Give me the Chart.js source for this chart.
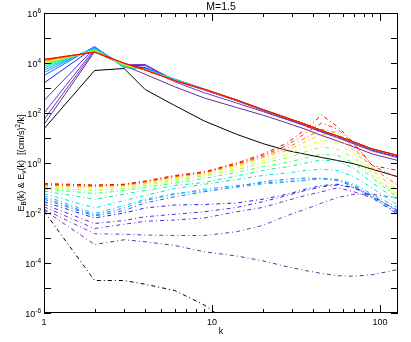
<!DOCTYPE html>
<html>
<head>
<meta charset="utf-8">
<script src="https://cdn.jsdelivr.net/npm/chart.js@4.4.0/dist/chart.umd.min.js"></script>
<style>
  html, body { margin: 0; padding: 0; background: #fff; }
</style>
</head>
<body>
<canvas id="spectra" width="411" height="342"></canvas>
<script>
// ===========================
// DATA (log10 of the spectra)
// ===========================
const kValues = [1, 2, 3, 4, 6, 9, 14, 20, 28, 36, 45, 56, 70, 90, 128];

// E_v(k), solid lines, first snapshot (black) to last (red)
const kineticLog = [
  [1.37, 3.70, 3.78, 2.94, 2.30, 1.68, 1.15, 0.78, 0.50, 0.35, 0.22, 0.10, -0.03, -0.25, -0.55],
  [1.54, 4.45, 3.90, 3.55, 3.05, 2.60, 2.22, 1.92, 1.60, 1.35, 1.10, 0.88, 0.64, 0.36, 0.10],
  [1.74, 4.50, 3.95, 3.80, 3.25, 2.81, 2.40, 2.06, 1.73, 1.48, 1.23, 1.01, 0.76, 0.48, 0.21],
  [2.00, 4.55, 3.93, 3.94, 3.30, 2.92, 2.49, 2.11, 1.76, 1.51, 1.26, 1.04, 0.80, 0.52, 0.25],
  [2.50, 4.60, 3.90, 3.90, 3.30, 2.93, 2.50, 2.12, 1.77, 1.52, 1.27, 1.05, 0.81, 0.53, 0.26],
  [3.20, 4.63, 3.85, 3.82, 3.32, 2.94, 2.50, 2.12, 1.78, 1.53, 1.28, 1.06, 0.82, 0.54, 0.27],
  [3.50, 4.66, 3.82, 3.78, 3.33, 2.95, 2.51, 2.13, 1.79, 1.54, 1.29, 1.06, 0.82, 0.55, 0.28],
  [3.62, 4.64, 3.82, 3.77, 3.35, 2.96, 2.52, 2.14, 1.80, 1.55, 1.30, 1.07, 0.83, 0.55, 0.28],
  [3.72, 4.60, 3.84, 3.76, 3.36, 2.96, 2.53, 2.15, 1.81, 1.55, 1.30, 1.07, 0.83, 0.55, 0.29],
  [3.80, 4.57, 3.86, 3.75, 3.34, 2.95, 2.52, 2.14, 1.80, 1.55, 1.30, 1.08, 0.84, 0.56, 0.29],
  [3.87, 4.55, 3.88, 3.74, 3.32, 2.95, 2.52, 2.14, 1.80, 1.55, 1.30, 1.08, 0.84, 0.56, 0.30],
  [3.93, 4.52, 3.90, 3.74, 3.31, 2.95, 2.52, 2.14, 1.80, 1.55, 1.30, 1.08, 0.84, 0.56, 0.30],
  [3.98, 4.50, 3.92, 3.73, 3.31, 2.95, 2.52, 2.14, 1.80, 1.55, 1.30, 1.08, 0.84, 0.56, 0.30],
  [4.02, 4.48, 3.94, 3.73, 3.30, 2.95, 2.52, 2.14, 1.80, 1.55, 1.30, 1.08, 0.84, 0.56, 0.30],
  [4.06, 4.46, 3.96, 3.72, 3.30, 2.95, 2.52, 2.14, 1.80, 1.55, 1.30, 1.08, 0.84, 0.56, 0.30],
  [4.10, 4.45, 3.98, 3.72, 3.30, 2.95, 2.52, 2.14, 1.80, 1.55, 1.30, 1.08, 0.84, 0.56, 0.30],
  [4.13, 4.44, 3.99, 3.72, 3.30, 2.95, 2.52, 2.14, 1.80, 1.55, 1.30, 1.08, 0.84, 0.56, 0.30],
  [4.15, 4.43, 4.00, 3.72, 3.30, 2.95, 2.52, 2.14, 1.80, 1.55, 1.30, 1.08, 0.84, 0.56, 0.30]
];

// E_B(k), dash-dot lines, same snapshots
const magneticLog = [
  [-1.93, -4.70, -4.70, -4.85, -5.10, -5.68, -6.60, null, null, null, null, null, null, null, null],
  [-1.88, -3.26, -3.07, -3.15, -3.30, -3.55, -3.72, -3.91, -4.15, -4.30, -4.42, -4.51, -4.53, -4.47, -4.26],
  [-1.85, -2.83, -2.85, -2.88, -2.90, -2.90, -2.75, -2.50, -2.10, -1.85, -1.60, -1.38, -1.25, -1.25, -1.40],
  [-1.75, -2.62, -2.45, -2.33, -2.28, -2.20, -1.95, -1.78, -1.50, -1.30, -1.15, -0.99, -1.15, -1.40, -2.00],
  [-1.65, -2.42, -2.30, -2.15, -2.05, -1.95, -1.78, -1.55, -1.30, -1.10, -0.95, -0.88, -1.00, -1.35, -1.90],
  [-1.55, -2.20, -2.00, -1.80, -1.68, -1.66, -1.60, -1.45, -1.25, -1.05, -0.90, -0.85, -0.98, -1.30, -1.95],
  [-1.45, -2.12, -1.90, -1.60, -1.35, -1.15, -0.95, -0.75, -0.65, -0.60, -0.62, -0.70, -0.95, -1.40, -2.06],
  [-1.38, -2.08, -1.80, -1.50, -1.25, -1.05, -0.90, -0.80, -0.74, -0.68, -0.62, -0.66, -0.90, -1.35, -1.90],
  [-1.30, -2.02, -1.70, -1.45, -1.22, -1.12, -0.97, -0.84, -0.77, -0.70, -0.63, -0.66, -0.85, -1.25, -1.79],
  [-1.22, -1.80, -1.50, -1.30, -1.02, -0.85, -0.66, -0.50, -0.40, -0.30, -0.25, -0.30, -0.55, -1.00, -1.70],
  [-1.12, -1.45, -1.25, -1.10, -0.90, -0.78, -0.52, -0.30, -0.15, 0.00, 0.12, 0.08, -0.22, -0.80, -1.50],
  [-1.04, -1.22, -1.10, -0.98, -0.80, -0.62, -0.38, -0.15, 0.02, 0.20, 0.35, 0.30, 0.00, -0.60, -1.40],
  [-0.98, -1.10, -1.02, -0.90, -0.70, -0.52, -0.27, 0.00, 0.20, 0.45, 0.65, 0.55, 0.20, -0.50, -1.35],
  [-0.93, -1.00, -0.95, -0.85, -0.64, -0.46, -0.17, 0.10, 0.35, 0.65, 0.90, 0.80, 0.35, -0.40, -1.30],
  [-0.90, -0.95, -0.90, -0.80, -0.58, -0.41, -0.10, 0.20, 0.50, 0.85, 1.15, 1.00, 0.50, -0.30, -1.10],
  [-0.87, -0.92, -0.88, -0.76, -0.55, -0.38, -0.06, 0.25, 0.60, 1.00, 1.35, 1.20, 0.60, -0.20, -0.90],
  [-0.85, -0.90, -0.86, -0.74, -0.52, -0.37, -0.03, 0.30, 0.70, 1.20, 1.60, 1.35, 0.75, -0.10, -0.60],
  [-0.82, -0.88, -0.85, -0.72, -0.50, -0.35, 0.00, 0.35, 0.80, 1.35, 1.92, 1.45, 0.80, -0.10, -0.30]
];

const snapshotColors = [
  '#000000', '#6b2c91', '#7a35b5', '#6a2fd0', '#4a28e6', '#2020ff',
  '#2060ff', '#1e90ff', '#00c0ff', '#00e0e0', '#00f0a0', '#30ff60',
  '#90ff30', '#e0ff00', '#ffc000', '#ff7000', '#ff3000', '#ff0000'
];

const yTickExponents = [-6, -4, -2, 0, 2, 4, 6];
const xTickLabels = [1, 10, 100];
const titleText = 'M=1.5';
const FONT = '"Liberation Sans", Arial, Helvetica, sans-serif';

// ===========================
// DATASETS
// ===========================
function toPoints(row) {
  return kValues.map((k, i) => ({ x: k, y: row[i] === null ? null : Math.pow(10, row[i]) }));
}

const datasets = [];
const last = snapshotColors.length - 1;
kineticLog.forEach((row, t) => {
  datasets.push({
    data: toPoints(row),
    borderColor: snapshotColors[t],
    borderWidth: 1,
    order: last - t
  });
});
magneticLog.forEach((row, t) => {
  datasets.push({
    data: toPoints(row),
    borderColor: snapshotColors[t],
    borderWidth: 1,
    borderDash: [4, 3, 1, 3],
    order: last - t
  });
});

// ===========================
// IDL-STYLE BOX, TICKS AND TEXT
// ===========================
function drawRuns(ctx, runs, x, y, align) {
  let total = 0;
  runs.forEach(r => { ctx.font = r[1] + 'px ' + FONT; total += ctx.measureText(r[0]).width; });
  let cx = align === 'right' ? x - total : align === 'center' ? x - total / 2 : x;
  runs.forEach(r => {
    ctx.font = r[1] + 'px ' + FONT;
    ctx.fillText(r[0], cx, y + r[2]);
    cx += ctx.measureText(r[0]).width;
  });
}

const idlAxes = {
  id: 'idlAxes',
  afterDraw(chart) {
    const { ctx, chartArea: a, scales } = chart;
    const xs = scales.x, ys = scales.y;
    ctx.save();
    ctx.strokeStyle = '#000';
    ctx.fillStyle = '#000';
    ctx.lineWidth = 1;
    ctx.strokeRect(a.left + 0.5, a.top + 0.5, a.right - a.left - 1, a.bottom - a.top - 1);

    ctx.beginPath();
    // y ticks every decade, both sides
    for (let e = -6; e <= 6; e++) {
      const py = Math.round(ys.getPixelForValue(Math.pow(10, e))) + 0.5;
      ctx.moveTo(a.left, py); ctx.lineTo(a.left + 7, py);
      ctx.moveTo(a.right, py); ctx.lineTo(a.right - 7, py);
    }
    // x ticks, major at decades, minor in between
    [1, 10, 100].forEach(d => {
      for (let m = 1; m <= 9; m++) {
        const v = m * d;
        if (v > 128) break;
        const px = Math.round(xs.getPixelForValue(v)) + 0.5;
        const len = m === 1 ? 8 : 4;
        ctx.moveTo(px, a.bottom); ctx.lineTo(px, a.bottom - len);
        ctx.moveTo(px, a.top); ctx.lineTo(px, a.top + len);
      }
    });
    ctx.stroke();

    ctx.textBaseline = 'alphabetic';
    // y tick labels 10^n
    yTickExponents.forEach(e => {
      const py = ys.getPixelForValue(Math.pow(10, e));
      drawRuns(ctx, [['10', 9, 0], [String(e), 6.5, -4.5]], 41, py + 4, 'right');
    });
    // x tick labels
    xTickLabels.forEach(v => {
      drawRuns(ctx, [[String(v), 9, 0]], xs.getPixelForValue(v), 325, 'center');
    });
    const midX = (a.left + a.right) / 2;
    drawRuns(ctx, [['k', 9, 0]], midX, 334, 'center');
    drawRuns(ctx, [[titleText, 10.5, 0]], midX, 9.5, 'center');

    // y axis title, rotated
    ctx.translate(24, (a.top + a.bottom) / 2);
    ctx.rotate(-Math.PI / 2);
    drawRuns(ctx, [
      ['E', 9, 0], ['B', 6.5, 2], ['(k) & E', 9, 0], ['v', 6.5, 2],
      ['(k)  [(cm/s)', 9, 0], ['2', 6.5, -4], ['/k]', 9, 0]
    ], 0, 0, 'center');
    ctx.restore();
  }
};

// ===========================
// CHART
// ===========================
new Chart(document.getElementById('spectra').getContext('2d'), {
  type: 'line',
  data: { datasets: datasets },
  options: {
    responsive: false,
    animation: false,
    devicePixelRatio: 1,
    events: [],
    layout: { padding: { top: 13, right: 13, left: 0, bottom: 0 } },
    elements: { point: { radius: 0 }, line: { tension: 0 } },
    plugins: { legend: { display: false }, title: { display: false }, tooltip: { enabled: false } },
    scales: {
      x: {
        type: 'logarithmic', min: 1, max: 128,
        grid: { display: false }, border: { display: false }, ticks: { display: false },
        afterFit: s => { s.height = 29; }
      },
      y: {
        type: 'logarithmic', min: 1e-6, max: 1e6,
        grid: { display: false }, border: { display: false }, ticks: { display: false },
        afterFit: s => { s.width = 44; }
      }
    }
  },
  plugins: [idlAxes]
});
</script>
</body>
</html>
